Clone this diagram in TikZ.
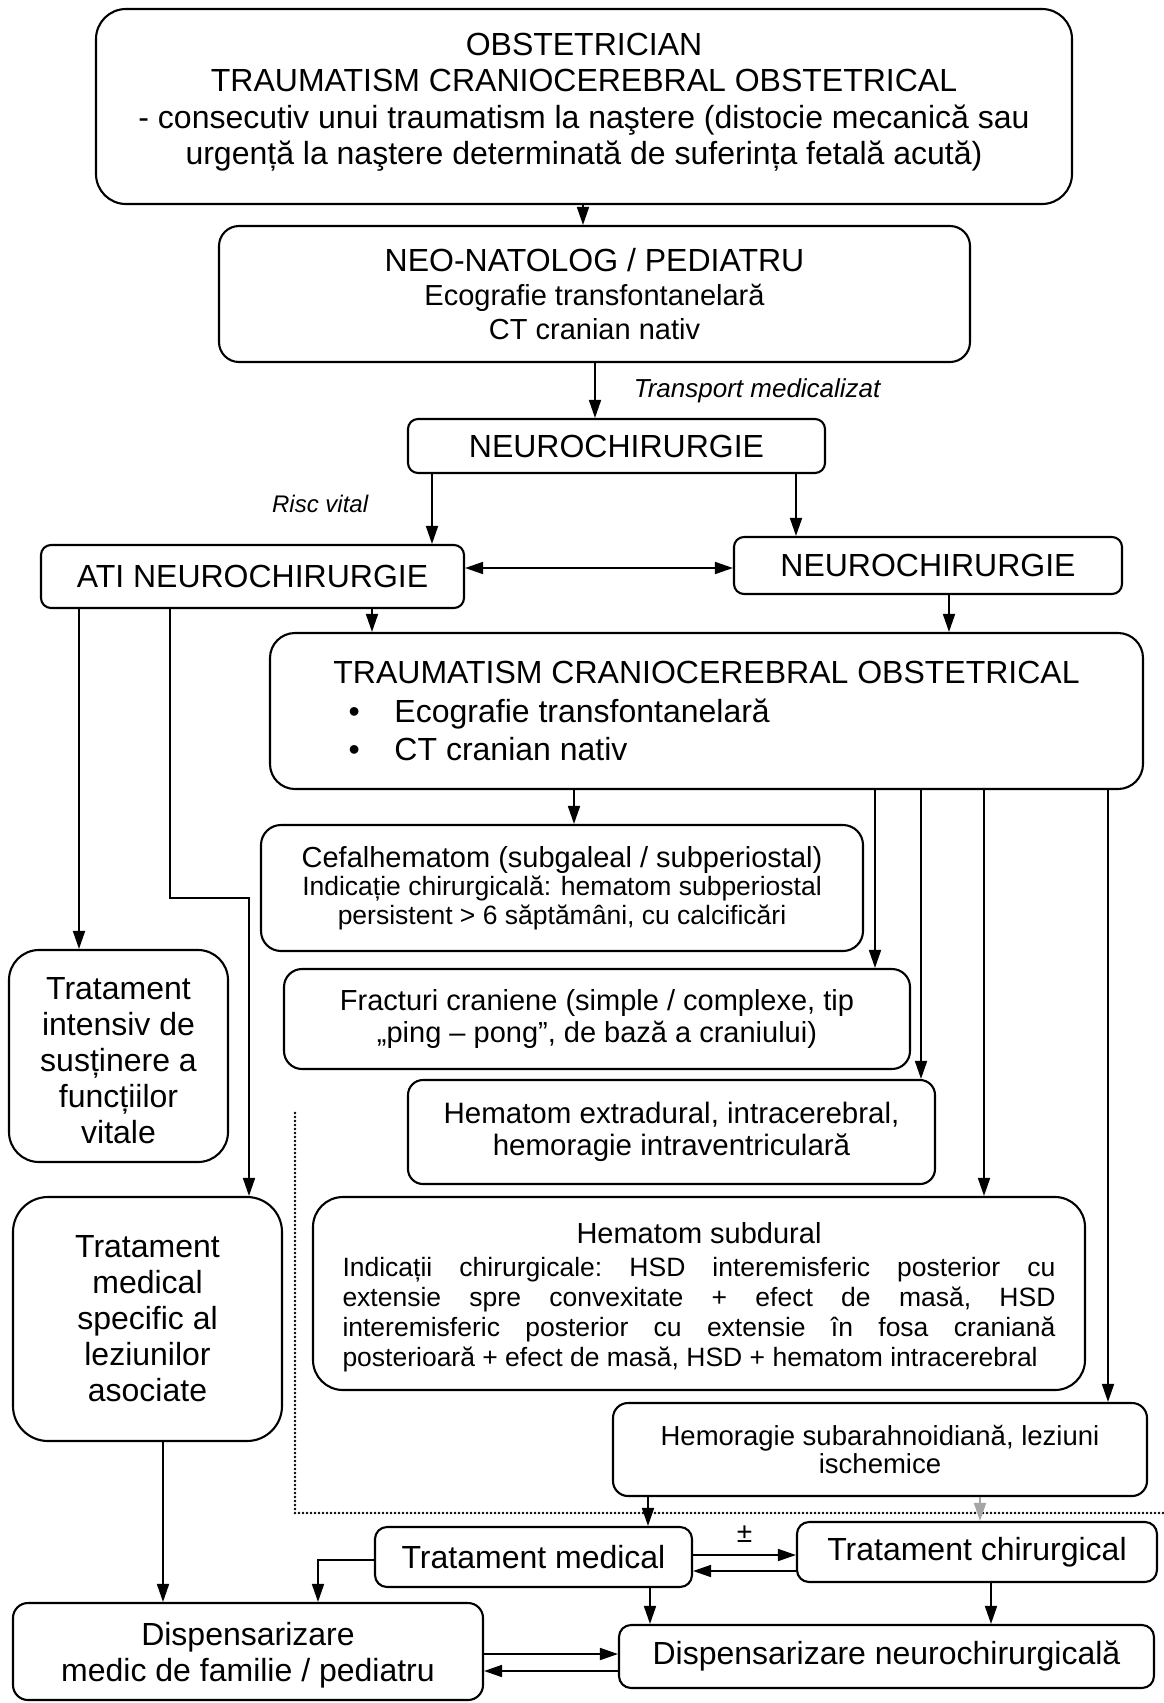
\documentclass[tikz,border=0pt]{standalone}
\usepackage{fontspec}
\setmainfont{Liberation Sans}
\usetikzlibrary{arrows.meta}

\newcommand{\setfs}[2]{\fontsize{#1}{#2}\selectfont}

\begin{document}
\begin{tikzpicture}[x=1pt,y=-1pt,
  box/.style={draw, line width=2.1pt, rounded corners=#1, inner sep=0pt,
              align=center, font=\setfs{32}{36}},
  box/.default=12pt,
  tip/.style={-{Triangle[length=18pt,width=12pt]}},
  arr/.style={line width=1.7pt, tip},
  dual/.style={line width=1.7pt, {Triangle[length=18pt,width=12pt]}-{Triangle[length=18pt,width=12pt]}},
  lbl/.style={font=\setfs{26}{30}\itshape, inner sep=0pt},
  dotline/.style={line width=2.8pt, line cap=round, dash pattern=on 0pt off 4pt},
]
\useasboundingbox (0,0) rectangle (1164,1703);

% ---------- boxes ----------
\node[box=30pt, minimum width=976pt, minimum height=195pt, font=\setfs{32}{36.3}] (top) at (584,106.5)
  {OBSTETRICIAN\\
   TRAUMATISM CRANIOCEREBRAL OBSTETRICAL\\
   - consecutiv unui traumatism la naştere (distocie mecanică sau\\
   urgență la naştere determinată de suferința fetală acută)\\[-21pt]\mbox{}};

\node[box=20pt, minimum width=751pt, minimum height=136pt, font=\setfs{32}{34}] (neo) at (594.5,294)
  {NEO-NATOLOG / PEDIATRU\\
   \setfs{29}{34}Ecografie transfontanelară\\
   \setfs{29}{34}CT cranian nativ};

\node[box=10pt, minimum width=417pt, minimum height=54pt] (neuroA) at (616.5,446) {NEUROCHIRURGIE};
\node[box=10pt, minimum width=423pt, minimum height=63pt] (ati) at (252.5,576.5) {ATI NEUROCHIRURGIE};
\node[box=10pt, minimum width=388pt, minimum height=57pt] (neuroB) at (928,565.5) {NEUROCHIRURGIE};

\node[box=25pt, minimum width=873pt, minimum height=156pt] (tco) at (706.5,711)
  {\begin{minipage}{800pt}\setfs{32}{38.5}
   \centering TRAUMATISM CRANIOCEREBRAL OBSTETRICAL\par
   \raggedright
   \hspace*{42pt}\makebox[46pt][l]{\textbullet}Ecografie transfontanelară\par
   \hspace*{42pt}\makebox[46pt][l]{\textbullet}CT cranian nativ
   \end{minipage}};

\node[box=20pt, minimum width=602pt, minimum height=126pt, font=\setfs{26.5}{28.5}] (cefal) at (562,888)
  {\setfs{29}{29}Cefalhematom (subgaleal / subperiostal)\\
   Indicație chirurgicală: hematom subperiostal\\
   persistent > 6 săptămâni, cu calcificări};

\node[box=18pt, minimum width=626pt, minimum height=100pt, font=\setfs{29}{32}] (fract) at (597,1019)
  {Fracturi craniene (simple / complexe, tip\\
   „ping – pong”, de bază a craniului)};

\node[box=15pt, minimum width=527pt, minimum height=104pt, font=\setfs{29.5}{32}] (extra) at (671.5,1132)
  {Hematom extradural, intracerebral,\\
   hemoragie intraventriculară};

\node[box=30pt, minimum width=772pt, minimum height=193pt] (subd) at (699,1293.5)
  {\begin{minipage}{713pt}\setfs{26.5}{30}\frenchspacing\tolerance=9999 \hbadness=10000
   \vspace*{7pt}
   {\centering\setfs{29}{30}Hematom subdural\par}\vspace{3pt}
   Indicații chirurgicale: HSD interemisferic posterior cu\linebreak
   extensie spre convexitate + efect de masă, HSD\linebreak
   interemisferic posterior cu extensie în fosa craniană\linebreak
   posterioară + efect de masă, HSD + hematom intracerebral\par
   \end{minipage}};

\node[box=15pt, minimum width=534pt, minimum height=93pt, font=\setfs{27.5}{28}] (hsa) at (880,1449.5)
  {Hemoragie subarahnoidiană, leziuni\\ ischemice};

\node[box=30pt, minimum width=219pt, minimum height=212pt] (tint) at (118.5,1056)
  {\mbox{}\\[-4pt]Tratament\\ intensiv de\\ susținere a\\ funcțiilor\\ vitale};

\node[box=35pt, minimum width=269pt, minimum height=244pt] (tspec) at (147.5,1319)
  {Tratament\\ medical\\ specific al\\ leziunilor\\ asociate};

\node[box=12pt, minimum width=317pt, minimum height=60pt] (tmed) at (533.5,1557) {Tratament medical};
\node[box=12pt, minimum width=360pt, minimum height=60pt] (tchir) at (977,1552) {Tratament chirurgical};

\node[box=15pt, minimum width=470pt, minimum height=97pt] (dmed) at (248,1651.5)
  {\mbox{}\\[-6pt]Dispensarizare\\ medic de familie / pediatru};
\node[box=12pt, minimum width=535pt, minimum height=63pt] (dneuro) at (886.5,1656.5)
  {Dispensarizare neurochirurgicală};

% ---------- connectors ----------
\draw[arr] (583,0 |- top.south) -- (583,0 |- neo.north);
\draw[arr] (595,0 |- neo.south) -- (595,0 |- neuroA.north)
  node[lbl, midway, anchor=west, xshift=38pt] {Transport medicalizat};
\draw[arr] (432,0 |- neuroA.south) -- (432,0 |- ati.north)
  node[lbl, font=\setfs{24}{28}\itshape, midway, anchor=east, xshift=-63pt, yshift=5pt] {Risc vital};
\draw[arr] (796,0 |- neuroA.south) -- (796,0 |- neuroB.north);
\draw[dual] (ati.east |- 0,568) -- (neuroB.west |- 0,568);

\draw[arr] (372,0 |- ati.south) -- (372,0 |- tco.north);
\draw[arr] (949,0 |- neuroB.south) -- (949,0 |- tco.north);

\draw[arr] (574,0 |- tco.south) -- (574,0 |- cefal.north);
\draw[arr] (875,0 |- tco.south) -- (875,0 |- fract.north);
\draw[arr] (921,0 |- tco.south) -- (921,0 |- extra.north);
\draw[arr] (984,0 |- tco.south) -- (984,0 |- subd.north);
\draw[arr] (1108,0 |- tco.south) -- (1108,0 |- hsa.north);

\draw[arr] (79,0 |- ati.south) -- (79,0 |- tint.north);
\draw[arr] (170,0 |- ati.south) -- (170,898) -- (249,898) -- (249,0 |- tspec.north);
\draw[arr] (163,0 |- tspec.south) -- (163,0 |- dmed.north);

% dotted grouping line
\draw[dotline] (295,1113) -- (295,1513) -- (1164,1513);

\draw[arr] (648,0 |- hsa.south) -- (648,0 |- tmed.north);
\draw[arr, draw=black!35, fill=black!35] (980,0 |- hsa.south) -- (980,0 |- tchir.north);

\draw[arr] (tmed.east |- 0,1555) -- (tchir.west |- 0,1555)
  node[midway, above=12pt, font=\setfs{28}{28}, inner sep=0pt] {±};
\draw[arr] (tchir.west |- 0,1571) -- (tmed.east |- 0,1571);

\draw[arr] (tmed.west |- 0,1560) -| (318,0 |- dmed.north);
\draw[arr] (650,0 |- tmed.south) -- (650,0 |- dneuro.north);
\draw[arr] (991,0 |- tchir.south) -- (991,0 |- dneuro.north);

\draw[arr] (dmed.east |- 0,1654) -- (dneuro.west |- 0,1654);
\draw[arr] (dneuro.west |- 0,1671) -- (dmed.east |- 0,1671);
\end{tikzpicture}
\end{document}
